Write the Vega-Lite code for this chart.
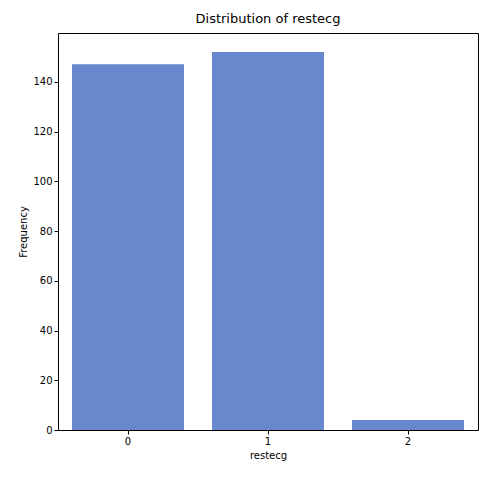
{
  "$schema": "https://vega.github.io/schema/vega-lite/v6.json",
  "width": 420,
  "height": 397,
  "autosize": {"type": "none"},
  "padding": {"left": 58, "top": 33, "right": 11, "bottom": 49},
  "title": {"text": "Distribution of restecg", "fontSize": 13, "fontWeight": "normal", "font": "DejaVu Sans", "color": "black", "offset": 7},
  "data": {"values": [
    {"restecg": "0", "count": 147},
    {"restecg": "1", "count": 152},
    {"restecg": "2", "count": 4}
  ]},
  "mark": {"type": "bar", "color": "#6788cc"},
  "encoding": {
    "x": {"field": "restecg", "type": "nominal", "title": "restecg",
      "scale": {"paddingInner": 0.2, "paddingOuter": 0.1},
      "axis": {"labelAngle": 0}},
    "y": {"field": "count", "type": "quantitative", "title": "Frequency",
      "scale": {"domain": [0, 159.6], "nice": false},
      "axis": {"values": [0, 20, 40, 60, 80, 100, 120, 140]}}
  },
  "config": {
    "view": {"stroke": "black", "strokeWidth": 1},
    "axis": {"grid": false, "domain": false, "tickColor": "black", "tickSize": 4,
      "labelFont": "DejaVu Sans", "labelFontSize": 10, "labelColor": "black",
      "titleFont": "DejaVu Sans", "titleFontSize": 10, "titleFontWeight": "normal", "titleColor": "black"}
  }
}
